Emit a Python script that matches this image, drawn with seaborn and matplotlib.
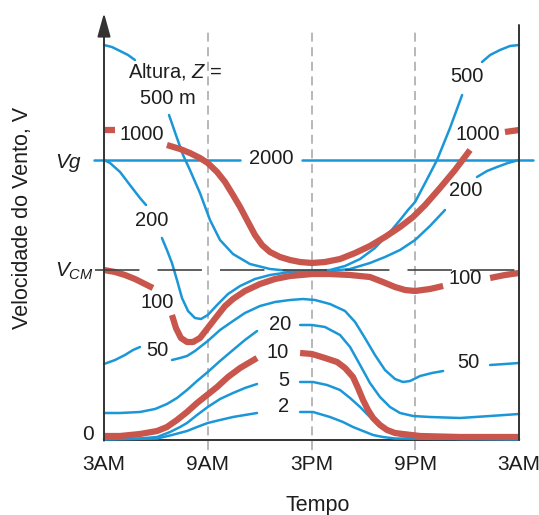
import numpy as np
import pandas as pd
import matplotlib
matplotlib.use('Agg')
import matplotlib.pyplot as plt
import seaborn as sns
from matplotlib.patches import ArrowStyle

sns.set_style('white')
plt.rcParams['font.family'] = ['Liberation Sans', 'DejaVu Sans']
plt.rcParams['mathtext.fontset'] = 'custom'
plt.rcParams['mathtext.rm'] = 'Liberation Sans'
plt.rcParams['mathtext.it'] = 'Liberation Sans:italic'
plt.rcParams['lines.scale_dashes'] = False

BLUE = '#1b97d8'
RED = '#c8564c'
DARK = '#333333'
GRAY = '#ababab'
TXT = '#1e1e1e'
nan = np.nan

# ---- data: hours after 3AM, wind speed (arbitrary units; V_CM = 17, Vg = 28) ----
V_CM = 17.0
V_G = 28.0

h500 = [0, 0.46, 0.93, 1.39, 1.79, nan, 3.76, 4.16, 4.57, 4.97, 5.55, 6.13, 6.71, 7.46, 8.44, 9.60,
        10.76, 12.03, 13.07, 13.94, 14.81, 15.67, 16.54, 17.12, 17.58, 17.99, 18.57, 19.26, 20.01,
        20.71, nan, 21.86, 22.33, 22.90, 23.48, 24]
v500 = [39.5, 39.3, 38.9, 38.5, 38.0, nan, 32.5, 30.5, 28.5, 27.0, 24.7, 22.0, 20.0, 18.6, 17.6, 17.1,
        16.9, 16.9, 17.0, 17.4, 18.1, 19.2, 20.8, 22.0, 23.0, 23.8, 25.7, 28.0, 31.2,
        34.5, nan, 37.8, 38.5, 39.0, 39.4, 39.5]

h1000 = [0, 0.64, nan, 3.64, 4.40, 4.97, 5.55, 6.0, 6.54, 7.0, 7.46, 7.87, 8.33, 8.73, 9.14, 9.60,
         10.18, 10.76, 11.34, 12.03, 12.78, 13.65, 14.52, 15.38, 16.25, 17.12, 17.87, 18.57, 19.43,
         20.30, 21.17, nan, 23.19, 24]
v1000 = [31.0, 31.0, nan, 29.5, 29.1, 28.7, 28.2, 27.7, 26.8, 25.8, 24.5, 23.3, 21.8, 20.5, 19.5, 18.8,
         18.3, 18.0, 17.8, 17.7, 17.8, 18.1, 18.7, 19.4, 20.3, 21.3, 22.3, 23.5, 25.2,
         27.0, 29.0, nan, 30.8, 31.0]

h2000 = [-0.6, 7.87, nan, 11.45, 24.8]
v2000 = [28.0, 28.0, nan, 28.0, 28.0]

h200 = [0, 0.35, 0.93, 1.50, 2.08, 2.43, nan, 3.35, 3.64, 3.93, 4.22, 4.51, 4.86, 5.26, 5.61, 6.0,
        6.54, 7.17, 7.87, 8.73, 9.60, 10.76, 12.03, 13.07, 14.23, 15.38, 16.25, 17.12, 17.99, 18.85,
        19.72, nan, 21.57, 22.15, 22.73, 23.36, 24]
v200 = [28.0, 27.7, 26.8, 25.5, 24.2, 23.5, nan, 20.2, 19.0, 17.7, 16.0, 14.2, 12.9, 12.2, 12.1, 12.5,
        13.5, 14.6, 15.4, 16.1, 16.5, 16.8, 16.9, 16.9, 17.1, 17.7, 18.3, 19.0, 20.0, 21.4,
        23.0, nan, 26.3, 26.9, 27.3, 27.7, 28.0]

h100 = [0, 0.64, 1.21, 1.79, 2.37, 2.83, nan, 3.93, 4.16, 4.45, 4.80, 5.15, 5.55, 6.0, 6.54, 7.0,
        7.46, 8.15, 9.02, 9.89, 10.76, 12.03, 13.07, 14.23, 15.38, 16.13, 16.83, 17.41, 17.99, 18.85,
        19.61, nan, 22.33, 23.19, 24]
v100 = [17.0, 16.8, 16.5, 16.1, 15.6, 15.2, nan, 12.5, 11.2, 10.2, 9.8, 9.8, 10.2, 11.2, 12.4, 13.4,
        14.1, 14.9, 15.6, 16.1, 16.4, 16.6, 16.6, 16.5, 16.3, 15.8, 15.3, 15.0, 14.9, 15.1,
        15.4, nan, 16.2, 16.5, 16.7]

h50 = [0, 0.64, 1.21, 1.68, 2.08, nan, 3.93, 4.40, 4.80, 5.26, 6.0, 6.71, 7.46, 8.15, 9.02, 9.89,
       10.76, 11.51, 12.20, 13.07, 13.94, 14.52, 15.09, 15.67, 16.25, 16.83, 17.29, 17.70, 18.28,
       18.97, 19.61, nan, 22.33, 23.19, 24]
v50 = [7.6, 8.0, 8.5, 9.0, 9.3, nan, 8.0, 8.2, 8.4, 8.9, 9.9, 11.0, 11.9, 12.7, 13.4, 13.8,
       14.0, 14.1, 14.0, 13.6, 12.9, 11.8, 10.2, 8.5, 7.0, 6.1, 5.8, 5.9, 6.4,
       6.7, 6.9, nan, 7.5, 7.6, 7.7]

h20 = [0, 0.93, 2.08, 2.95, 3.64, 4.22, 4.80, 5.38, 6.0, 6.71, 7.46, 8.15, 8.85, nan, 11.34, 12.03,
       12.78, 13.65, 14.23, 14.81, 15.38, 15.96, 16.54, 17.12, 17.87, 18.85, 20.59, 22.33, 24]
v20 = [2.7, 2.7, 2.8, 3.1, 3.6, 4.2, 5.0, 5.9, 6.8, 7.9, 9.0, 10.0, 10.9, nan, 11.5, 11.5,
       11.3, 10.5, 9.3, 7.5, 5.7, 4.3, 3.3, 2.7, 2.4, 2.3, 2.2, 2.4, 2.6]

h10 = [0, 0.93, 2.08, 3.07, 3.64, 4.22, 4.80, 5.38, 5.96, 6.54, 7.17, 7.87, 8.85, nan, 11.34, 12.03,
       12.78, 13.48, 13.94, 14.40, 14.69, 14.98, 15.27, 15.56, 15.96, 16.37, 16.83, 17.29, 18.28,
       20.59, 24]
v10 = [0.4, 0.4, 0.6, 0.9, 1.3, 2.0, 2.8, 3.7, 4.5, 5.3, 6.3, 7.2, 8.2, nan, 8.7, 8.6,
       8.2, 7.8, 7.2, 6.3, 5.2, 4.0, 3.0, 2.2, 1.5, 1.0, 0.7, 0.6, 0.4,
       0.3, 0.3]

h5 = [0, 2.08, 3.07, 3.82, 4.40, 4.80, 5.38, 6.0, 6.71, 7.46, 8.15, 8.85, nan, 11.34, 12.09, 12.90,
      13.65, 14.23, 14.81, 15.38, 15.79, 16.25, 16.71, 17.23, 17.70, 18.85, 24]
v5 = [0.1, 0.15, 0.3, 0.8, 1.3, 1.7, 2.5, 3.3, 4.1, 4.7, 5.2, 5.6, nan, 5.8, 5.8, 5.5,
      5.0, 4.2, 3.3, 2.3, 1.7, 1.1, 0.7, 0.4, 0.3, 0.15, 0.1]

h2 = [0, 3.07, 3.93, 4.80, 5.38, 6.0, 6.71, 7.46, 8.15, 8.85, nan, 11.34, 12.09, 13.07, 13.82, 14.40,
      14.98, 15.56, 16.13, 16.83, 24]
v2 = [0.05, 0.15, 0.5, 0.9, 1.3, 1.7, 2.0, 2.3, 2.5, 2.7, nan, 2.8, 2.8, 2.3, 1.8, 1.3,
      0.9, 0.5, 0.3, 0.15, 0.05]

blue_curves = {'500': (h500, v500), '2000': (h2000, v2000), '200': (h200, v200),
               '50': (h50, v50), '20': (h20, v20), '5': (h5, v5), '2': (h2, v2)}
red_curves = {'1000': (h1000, v1000), '100': (h100, v100), '10': (h10, v10)}

# curve labels: text, hour, value
label_text = ['1000', '200', '100', '50', '2000', '20', '10', '5', '2',
              '500', '1000', '200', '100', '50']
label_h = [2.2, 2.78, 3.07, 3.07, 9.66, 10.18, 10.06, 10.4, 10.4,
           21.0, 21.6, 20.9, 20.9, 21.1]
label_v = [30.5, 22.0, 13.7, 9.0, 28.2, 11.5, 8.7, 5.9, 3.4,
           36.4, 30.5, 24.9, 16.2, 7.7]

x_ticks = [0, 6, 12, 18, 24]
x_ticklabels = ['3AM', '9AM', '3PM', '9PM', '3AM']
x_minor = [3, 9, 15, 21]


def to_frame(curves):
    rows = []
    for name, (hs, vs) in curves.items():
        seg = 0
        for h, v in zip(hs, vs):
            if np.isnan(v):
                seg += 1
                continue
            rows.append((name, f'{name}-{seg}', h, v))
    return pd.DataFrame(rows, columns=['curve', 'seg', 'hour', 'v'])


df_blue = to_frame(blue_curves)
df_red = to_frame(red_curves)

fig = plt.figure(figsize=(5.39, 5.15), dpi=100)
ax = fig.add_axes([104 / 539, 75 / 515, 415 / 539, 430 / 515])

# gridlines (dashed gray)
for xv in [6, 12, 18]:
    ax.plot([xv, xv], [-1.0, 41.2], color=GRAY, lw=1.2, dashes=(6.5, 4), clip_on=False, zorder=1)

sns.lineplot(data=df_blue, x='hour', y='v', units='seg', estimator=None, sort=False,
             color=BLUE, linewidth=1.8, ax=ax, legend=False, clip_on=False, zorder=3,
             solid_joinstyle='round')
sns.lineplot(data=df_red, x='hour', y='v', units='seg', estimator=None, sort=False,
             color=RED, linewidth=4.5, ax=ax, legend=False, clip_on=False, zorder=4,
             solid_capstyle='butt', solid_joinstyle='round')

# V_CM dashed line
ax.plot([-0.5, 24], [V_CM, V_CM], color='#444444', lw=1.2, dashes=(32, 13), clip_on=False, zorder=5)

ax.set_xlim(0, 24)
ax.set_ylim(0, 43)
ax.set_xlabel('')
ax.set_ylabel('')

for s in ['top', 'right', 'left']:
    ax.spines[s].set_visible(False)
ax.spines['bottom'].set_color(DARK)
ax.spines['bottom'].set_linewidth(1.4)

# right vertical line
ax.plot([24, 24], [0, 41.5], color=DARK, lw=1.4, clip_on=False, zorder=6)
# left axis with arrow
ax.annotate('', xy=(0, 42.7), xytext=(0, -0.07), xycoords='data',
            arrowprops=dict(arrowstyle=ArrowStyle('-|>', head_length=1.44, head_width=0.4),
                            color=DARK, lw=1.4, shrinkA=0, shrinkB=0, mutation_scale=10),
            annotation_clip=False, zorder=6)

ax.set_yticks([])
ax.set_xticks(x_ticks)
ax.set_xticklabels(x_ticklabels, fontsize=15)
ax.set_xticks(x_minor, minor=True)
ax.tick_params(axis='x', which='major', direction='out', length=7, width=1.4, color=DARK, pad=4,
               labelcolor=TXT)
ax.tick_params(axis='x', which='minor', direction='inout', length=13, width=1.4, color=DARK)
ax.grid(False)

# y "tick" labels
ax.text(-0.58, 0.5, '0', ha='right', va='center', fontsize=15, color=TXT, clip_on=False)
ax.text(-0.62, 16.3, r'$V_{CM}$', ha='right', va='baseline', fontsize=15, color=TXT, clip_on=False)
ax.text(-1.35, 27.2, 'Vg', ha='right', va='baseline', fontsize=15, style='italic', color=TXT,
        clip_on=False)

# curve labels
for t, hh, vv in zip(label_text, label_h, label_v):
    ax.text(hh, vv, t, ha='center', va='center', fontsize=14.5, color=TXT, zorder=8)
ax.text(4.11, 36.9, r'Altura, $Z$ =', ha='center', va='center', fontsize=14.5, color=TXT, zorder=8)
ax.text(3.70, 34.2, '500 m', ha='center', va='center', fontsize=14.5, color=TXT, zorder=8)

fig.text(318 / 539, 1 - 505 / 515, 'Tempo', ha='center', va='center', fontsize=15.5, color=TXT)
fig.text(23 / 539, 1 - 218 / 515, 'Velocidade do Vento, V', ha='center', va='center',
         rotation=90, fontsize=15.5, color=TXT)

fig.savefig('out.png', dpi=100, facecolor='white')
